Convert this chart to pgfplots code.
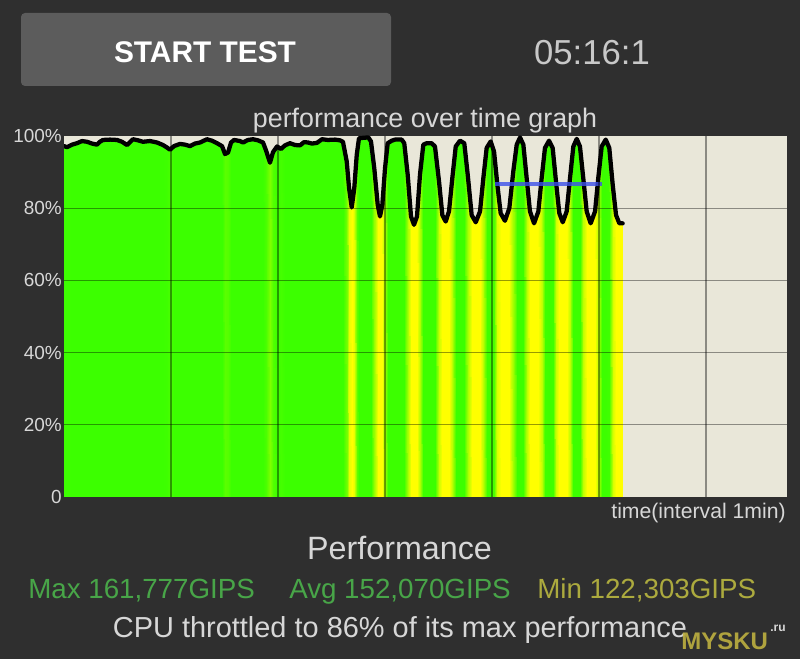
\documentclass[border=0pt]{standalone}
\usepackage{fontspec}
\setmainfont{Liberation Sans}
\usepackage{pgfplots}
\usepackage{pgfplotstable}
\pgfplotsset{compat=1.18}
\definecolor{bgdark}{RGB}{47,47,47}
\definecolor{btn}{RGB}{92,92,92}
\definecolor{beige}{RGB}{233,231,217}
\definecolor{ltext}{RGB}{215,215,215}
\definecolor{timer}{RGB}{200,200,200}
\definecolor{maxgreen}{RGB}{72,165,72}
\definecolor{minolive}{RGB}{172,170,62}
\definecolor{blueline}{RGB}{60,80,235}
\definecolor{mysku}{RGB}{190,176,64}

\pgfplotstableread{
t v
0.000 97.2
0.028 96.9
0.075 97.6
0.121 98.0
0.168 98.6
0.215 98.4
0.262 97.9
0.308 97.6
0.336 98.4
0.364 98.9
0.430 99.0
0.495 98.9
0.542 98.4
0.589 97.5
0.645 99.1
0.692 98.8
0.738 98.4
0.804 98.6
0.869 98.2
0.925 97.5
0.963 96.8
0.991 96.2
1.028 97.2
1.084 97.8
1.131 97.6
1.178 97.2
1.224 97.9
1.271 98.2
1.336 99.1
1.383 98.7
1.430 98.0
1.477 97.2
1.505 95.0
1.533 95.4
1.561 98.2
1.589 98.9
1.645 98.6
1.673 98.2
1.720 98.9
1.766 99.1
1.813 98.8
1.860 98.2
1.888 96.0
1.925 92.6
1.953 95.5
1.991 97.1
2.028 96.4
2.065 97.4
2.112 98.0
2.159 97.5
2.206 97.4
2.243 98.3
2.280 98.2
2.318 97.9
2.364 98.1
2.411 99.1
2.467 98.9
2.533 99.0
2.579 98.8
2.607 98.4
2.642 93.0
2.664 85.6
2.689 80.2
2.713 85.6
2.736 94.8
2.757 99.4
2.844 99.6
2.869 98.5
2.900 91.0
2.932 80.9
2.953 77.7
2.975 80.9
3.000 91.0
3.025 98.0
3.063 98.7
3.093 99.0
3.156 99.0
3.180 98.0
3.212 89.3
3.243 77.7
3.271 75.4
3.299 77.7
3.327 89.3
3.358 97.6
3.390 98.0
3.436 98.0
3.467 97.1
3.505 87.4
3.536 78.1
3.567 76.3
3.598 79.1
3.629 88.3
3.661 97.1
3.701 98.7
3.741 98.0
3.773 89.3
3.810 78.1
3.848 76.1
3.888 79.1
3.919 88.3
3.950 96.7
3.988 98.5
4.019 95.7
4.050 86.5
4.081 78.6
4.121 76.5
4.162 80.0
4.199 90.2
4.231 97.6
4.262 99.6
4.293 97.6
4.324 88.3
4.355 79.1
4.393 75.8
4.433 79.1
4.464 88.3
4.495 96.7
4.533 98.7
4.567 96.7
4.598 87.4
4.629 78.6
4.661 76.1
4.698 79.1
4.729 88.3
4.760 97.1
4.792 99.2
4.822 97.1
4.853 88.3
4.885 79.1
4.922 75.8
4.963 79.1
4.993 88.3
5.025 97.1
5.063 99.0
5.096 96.7
5.128 86.5
5.159 78.1
5.190 75.8
5.221 75.8
}\perf
\pgfplotstablevertcat{\perffill}{\perf}
\pgfplotstablevertcat{\perffill}{\perf}
\pgfplotstablegetrowsof{\perf}
\edef\npts{\pgfplotsretval}

\begin{document}
\begin{tikzpicture}
\begin{scope}[x=0.75pt,y=0.75pt]
\useasboundingbox (0,0) rectangle (800,659);
\fill[bgdark] (0,0) rectangle (800,659);
\fill[btn, rounded corners=3pt] (21,573) rectangle (391,646);
\node[anchor=base, text=white, inner sep=0pt, font=\fontsize{22.4}{26}\selectfont\bfseries] at (205,596) {START TEST};
\node[anchor=base, text=timer, inner sep=0pt, font=\fontsize{26}{30}\selectfont] at (592,594) {05:16:1};
\node[anchor=base, text=ltext, inner sep=0pt, font=\fontsize{20.1}{24}\selectfont] at (425,531) {performance over time graph};
\end{scope}

\begin{axis}[
  at={(48pt,121.5pt)}, anchor=south west,
  scale only axis, width=542.25pt, height=270.75pt,
  xmin=0, xmax=6.757, ymin=0, ymax=100,
  enlargelimits=false,
  axis background/.style={fill=beige},
  axis line style={draw=none},
  major tick length=0pt,
  xtick={1,2,3,4,5,6}, xticklabels={,,,,,},
  ytick={20,40,60,80}, yticklabels={20\%,40\%,60\%,80\%},
  extra y ticks={0,100}, extra y tick labels={0,100\%},
  extra y tick style={grid=none},
  grid=major,
  grid style={black, opacity=0.4, line width=0.9pt},
  axis on top,
  yticklabel style={font=\fontsize{14.2}{16}\selectfont, text=ltext, inner sep=0pt, xshift=-1.5pt},
  colormap={perf}{rgb255(0cm)=(255,255,0); rgb255(1cm)=(60,255,0)},
  point meta min=84, point meta max=97,
]
\addplot[surf, shader=interp, mesh/rows=2, point meta=\thisrow{v}]
  table[x=t, y expr={ifthenelse(\coordindex<\npts,0,\thisrow{v})}] {\perffill};
\addplot[black, line width=3.2pt, line join=round, line cap=round] table[x=t, y=v] {\perf};
\addplot[blueline, line width=3.5pt, opacity=0.8] coordinates {(4.028,86.7) (5.025,86.7)};
\end{axis}

\begin{scope}[x=0.75pt,y=0.75pt]
\node[anchor=base east, text=ltext, inner sep=0pt, font=\fontsize{15.9}{18}\selectfont] at (786,140) {time(interval 1min)};
\node[anchor=base, text=ltext, inner sep=0pt, font=\fontsize{24.2}{28}\selectfont] at (399.5,99) {Performance};
\node[anchor=base west, text=maxgreen, inner sep=0pt, font=\fontsize{20.8}{24}\selectfont] at (28,60) {Max 161,777GIPS};
\node[anchor=base west, text=maxgreen, inner sep=0pt, font=\fontsize{20.8}{24}\selectfont] at (289,60) {Avg 152,070GIPS};
\node[anchor=base west, text=minolive, inner sep=0pt, font=\fontsize{20.8}{24}\selectfont] at (537,60) {Min 122,303GIPS};
\node[anchor=base, text=ltext, inner sep=0pt, font=\fontsize{21.7}{26}\selectfont] at (400,21) {CPU throttled to 86\% of its max performance};
\node[anchor=base west, text=mysku, opacity=0.9, inner sep=0pt, font=\fontsize{18}{20}\selectfont\bfseries] at (681,9) {MYSKU};
\node[anchor=base west, text=ltext, inner sep=0pt, font=\fontsize{9}{10}\selectfont\bfseries] at (770,27) {.ru};
\end{scope}
\end{tikzpicture}
\end{document}
